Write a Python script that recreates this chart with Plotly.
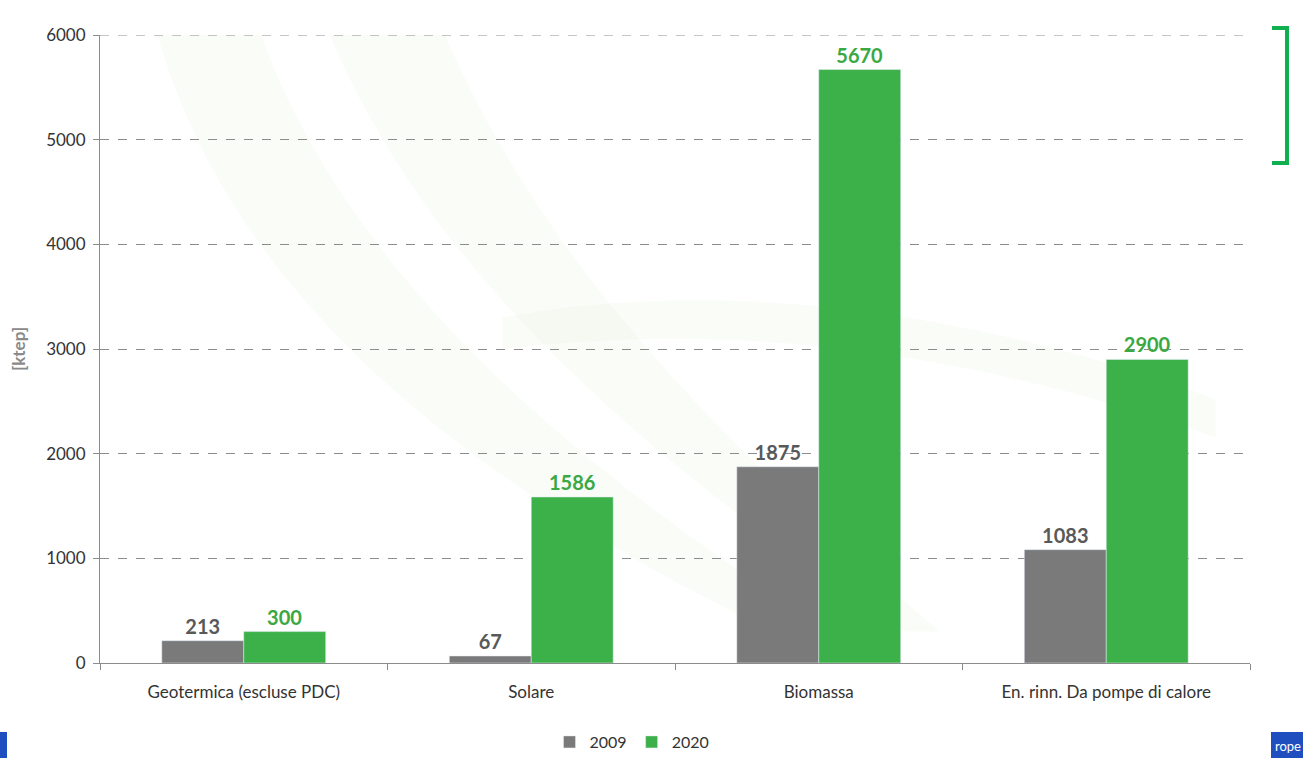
import plotly.graph_objects as go

categories = ["Geotermica (escluse PDC)", "Solare", "Biomassa", "En. rinn. Da pompe di calore"]
values_2009 = [213, 67, 1875, 1083]
values_2020 = [300, 1586, 5670, 2900]
y_ticks = [0, 1000, 2000, 3000, 4000, 5000, 6000]

GRAY = "#7a7a7a"
GREEN = "#3cb14a"
FONT = "Lato, 'Open Sans', sans-serif"

W, H = 1303, 758
L, R, T, B = 100, 53, 35, 95
PW, PH = W - L - R, H - T - B

fig = go.Figure()
fig.add_trace(go.Bar(
    name="2009", x=categories, y=values_2009, marker_color=GRAY,
    text=[str(v) for v in values_2009], textposition="outside",
    textfont=dict(color="#595959", size=20, family=FONT, weight="bold"),
    cliponaxis=False,
))
fig.add_trace(go.Bar(
    name="2020", x=categories, y=values_2020, marker_color=GREEN,
    text=[str(v) for v in values_2020], textposition="outside",
    textfont=dict(color="#3aa843", size=20, family=FONT, weight="bold"),
    cliponaxis=False,
))

fig.update_layout(
    width=W, height=H,
    barmode="group", bargap=0.43, bargroupgap=0,
    plot_bgcolor="rgba(0,0,0,0)", paper_bgcolor="white",
    margin=dict(l=L, r=R, t=T, b=B, autoexpand=False),
    font=dict(family=FONT, size=17, color="#333333"),
    showlegend=True,
    legend=dict(orientation="h", x=(632 - L) / PW, xanchor="center", y=-79 / PH, yanchor="middle",
                font=dict(size=16, color="#333333", family=FONT),
                itemwidth=30, traceorder="normal", tracegroupgap=0),
)
fig.update_yaxes(
    range=[0, 6000], tickvals=y_ticks, ticktext=[str(v) for v in y_ticks],
    showgrid=True, gridcolor="#8c8c8c", griddash="dash", gridwidth=1,
    showline=True, linecolor="#8c8c8c", linewidth=1,
    ticks="outside", ticklen=6, tickcolor="#8c8c8c", ticklabelstandoff=4,
    tickfont=dict(size=17, color="#333333", family=FONT),
    zeroline=False,
    title=dict(text="[ktep]", font=dict(size=17, color="#8a8a8a", family=FONT, weight="bold"), standoff=16),
)
fig.update_xaxes(
    showline=True, linecolor="#8c8c8c", linewidth=1,
    ticks="outside", tickson="boundaries", ticklen=6, tickcolor="#8c8c8c", ticklabelstandoff=14,
    tickfont=dict(size=17, color="#333333", family=FONT),
    showgrid=False,
)

# top gridline at the range edge (plotly omits it)
fig.add_shape(type="line", xref="paper", yref="y", x0=0, x1=1, y0=y_ticks[-1], y1=y_ticks[-1],
              line=dict(color="#8c8c8c", width=1, dash="dash"), layer="below")

# faint watermark swooshes behind the chart
for path, op in [
    ("M 0.05,1.0 C 0.12,0.55 0.35,0.25 0.62,0.02 L 0.66,0.02 C 0.42,0.3 0.22,0.6 0.14,1.0 Z", 0.045),
    ("M 0.20,1.0 C 0.28,0.65 0.45,0.35 0.70,0.05 L 0.73,0.05 C 0.52,0.38 0.38,0.66 0.30,1.0 Z", 0.035),
    ("M 0.35,0.55 C 0.55,0.62 0.78,0.55 0.97,0.42 L 0.97,0.36 C 0.78,0.48 0.58,0.55 0.35,0.5 Z", 0.035),
]:
    fig.add_shape(type="path", xref="paper", yref="paper", path=path,
                  fillcolor="#6fb83a", opacity=op, line=dict(width=0), layer="below")

# green bracket at top right
fig.add_shape(type="path", xref="paper", yref="paper",
              path=f"M {(1272-L)/PW},{(H-B-28)/PH} L {(1287-L)/PW},{(H-B-28)/PH} "
                   f"L {(1287-L)/PW},{(H-B-163)/PH} L {(1272-L)/PW},{(H-B-163)/PH}",
              line=dict(color="#10b050", width=4), fillcolor="rgba(0,0,0,0)")
# blue bars bottom corners
fig.add_shape(type="rect", xref="paper", yref="paper",
              x0=(0-L)/PW, x1=(7-L)/PW, y0=(H-B-758)/PH, y1=(H-B-732)/PH,
              line=dict(width=0), fillcolor="#1f4fbf")
fig.add_shape(type="rect", xref="paper", yref="paper",
              x0=(1271-L)/PW, x1=(1303-L)/PW, y0=(H-B-758)/PH, y1=(H-B-732)/PH,
              line=dict(width=0), fillcolor="#1f4fbf")
fig.add_annotation(text="rope", xref="paper", yref="paper", x=(1303-L)/PW, xanchor="right",
                   y=(H-B-746)/PH, yanchor="middle", showarrow=False,
                   font=dict(size=13, color="white", family=FONT))

fig.write_html("out.html", config={"displayModeBar": False},
               post_script="document.body.style.margin='0';document.body.style.overflow='hidden';")
